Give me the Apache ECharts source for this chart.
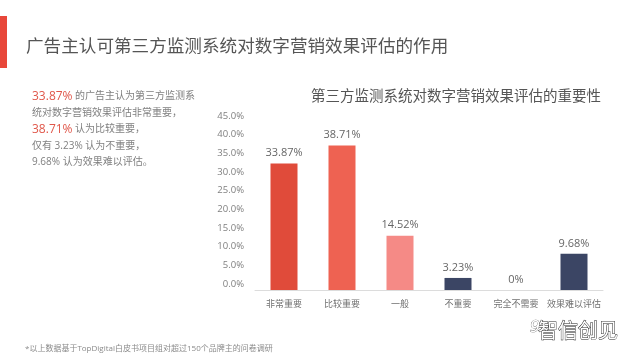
<!DOCTYPE html>
<html>
<head>
<meta charset="utf-8">
<script src="https://cdn.jsdelivr.net/npm/echarts@6/dist/echarts.min.js"></script>
<style>
html,body{margin:0;padding:0;background:#fff;}
#c{width:640px;height:357px;}
</style>
</head>
<body>
<div id="c"></div>
<script>
const categories = ['非常重要', '比较重要', '一般', '不重要', '完全不需要', '效果难以评估'];
const values = [33.87, 38.71, 14.52, 3.23, 0, 9.68];
const barColors = ['#e04b3a', '#ee6252', '#f58a86', '#3b4564', '#3b4564', '#3b4564'];
const yTicks = [0, 5, 10, 15, 20, 25, 30, 35, 40, 45];

const FONT = "'Open Sans', 'Noto Sans CJK SC', sans-serif";
const chart = echarts.init(document.getElementById('c'));

chart.setOption({
  backgroundColor: '#fff',
  animation: false,
  title: [
    {
      text: '广告主认可第三方监测系统对数字营销效果评估的作用',
      left: 21, top: 31,
      textStyle: { fontFamily: FONT, fontSize: 17.6, fontWeight: 'normal', color: '#555', lineHeight: 22 }
    },
    {
      text: '第三方监测系统对数字营销效果评估的重要性',
      left: 306, top: 83,
      textStyle: { fontFamily: FONT, fontSize: 14.5, fontWeight: 'normal', color: '#555', lineHeight: 18 }
    },
    {
      text: '{r|33.87%} {g|的广告主认为第三方监测系}\n{g|统对数字营销效果评估非常重要，}\n{r|38.71%} {g|认为比较重要，}\n{g|仅有 3.23% 认为不重要，}\n{g|9.68% 认为效果难以评估。}',
      left: 27, top: 83,
      textStyle: {
        fontFamily: FONT, fontSize: 10, fontWeight: 'normal', color: '#808080', lineHeight: 16.5,
        rich: {
          r: { fontFamily: FONT, fontSize: 12, color: '#e0574a', lineHeight: 16.5 },
          g: { fontFamily: FONT, fontSize: 10, color: '#808080', lineHeight: 16.5 }
        }
      }
    },
    {
      text: '*以上数据基于TopDigital白皮书项目组对超过150个品牌主的问卷调研',
      left: 20, top: 339,
      textStyle: { fontFamily: FONT, fontSize: 8, fontWeight: 'normal', color: '#8a8a8a', lineHeight: 10 }
    }
  ],
  graphic: [
    { type: 'rect', shape: { x: 0, y: 16, width: 7, height: 52 }, style: { fill: '#e8473a' } },
    {
      type: 'text', x: 538, y: 320,
      style: { text: '智信创见', font: "20px 'Noto Sans CJK SC'", fill: '#fff', stroke: '#222', lineWidth: 0.9 }
    },
    {
      type: 'text', x: 530, y: 320,
      style: { text: '9', font: "italic 16px 'DejaVu Sans'", fill: '#fff', stroke: '#555', lineWidth: 0.7 }
    }
  ],
  grid: { left: 255, top: 122, width: 348, height: 168, containLabel: false },
  xAxis: {
    type: 'category',
    data: categories,
    axisLine: { show: true, lineStyle: { color: '#dcdcdc', width: 1 } },
    axisTick: { show: false },
    axisLabel: { fontFamily: FONT, fontSize: 9, color: '#707070', margin: 10, interval: 0 }
  },
  yAxis: {
    type: 'value',
    min: yTicks[0], max: yTicks[yTicks.length - 1], interval: 5,
    axisLine: { show: false },
    axisTick: { show: false },
    splitLine: { show: false },
    axisLabel: {
      fontFamily: FONT, fontSize: 9.5, color: '#808080', margin: 11,
      verticalAlign: 'bottom', lineHeight: 12,
      formatter: v => v.toFixed(1) + '%'
    }
  },
  series: [{
    type: 'bar',
    barWidth: 27,
    data: values.map((v, i) => ({ value: v, itemStyle: { color: barColors[i] } })),
    label: {
      show: true, position: 'top', distance: 5,
      fontFamily: FONT, fontSize: 11, color: '#666',
      formatter: p => p.value + '%'
    }
  }]
});
</script>
</body>
</html>
